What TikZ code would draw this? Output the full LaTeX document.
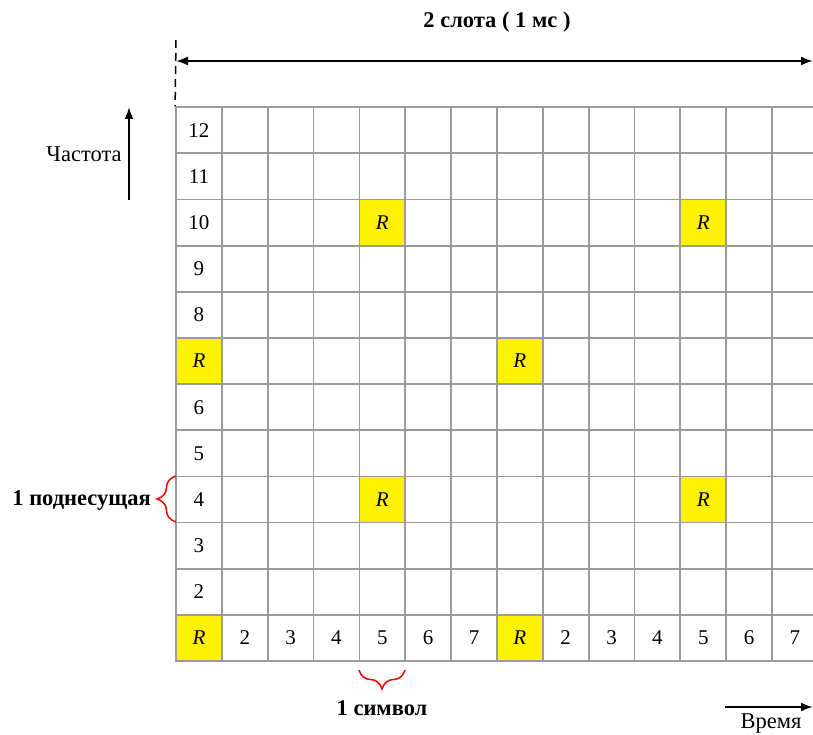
\documentclass[tikz,border=0pt]{standalone}
\usepackage{fontspec}
\setmainfont{Liberation Serif}
\usetikzlibrary{arrows.meta,decorations.pathreplacing}
\definecolor{gridgray}{RGB}{155,155,155}
\definecolor{ryellow}{RGB}{255,242,0}
\begin{document}
\begin{tikzpicture}[x=1pt,y=-1pt,
  cell/.style={draw=gridgray,line width=1.8pt,minimum width=45.85pt,minimum height=46.15pt,inner sep=0pt},
  ycell/.style={cell,fill=ryellow},
  ctext/.style={font=\fontsize{21}{25}\selectfont,inner sep=0pt},
  rtext/.style={ctext,font=\fontsize{21}{25}\selectfont\itshape},
  tip/.style={},
  arr/.style={line width=2pt,-{Latex[length=12pt,width=9pt]}},
  lbl/.style={font=\fontsize{22.5}{26}\selectfont,inner sep=0pt},
  blbl/.style={font=\fontsize{22.5}{26}\selectfont\bfseries,inner sep=0pt},
  rbrace/.style={draw=red,line width=1.5pt,decorate,decoration={brace,amplitude=19pt}}]
\useasboundingbox (0,0) rectangle (813,735);
% grid
\foreach \r in {1,...,12}{
  \foreach \c in {1,...,14}{
    \pgfmathtruncatemacro{\isy}{((\r==1)||(\r==7))&&((\c==1)||(\c==8)) ? 1 : (((\r==4)||(\r==10))&&((\c==5)||(\c==12)) ? 1 : 0)}
    \ifnum\isy=1 \def\cs{ycell}\else\def\cs{cell}\fi
    \node[\cs] (c-\r-\c) at ({176+(\c-0.5)*45.85},{661-(\r-0.5)*46.15}) {};
  }
}
% row labels in first column
\foreach \r in {2,3,4,5,6,8,9,10,11,12}{
  \node[ctext] (l-\r) at (c-\r-1.center) {\r};
}
\node[rtext] (l-7) at (c-7-1.center) {R};
% bottom row labels
\foreach \c/\t in {2/2,3/3,4/4,5/5,6/6,7/7,9/2,10/3,11/4,12/5,13/6,14/7}{
  \node[ctext] (b-\c) at (c-1-\c.center) {\t};
}
\node[rtext] (b-1) at (c-1-1.center) {R};
\node[rtext] (b-8) at (c-1-8.center) {R};
% other R cells
\node[rtext] (r-7-8) at (c-7-8.center) {R};
\node[rtext] (r-4-5) at (c-4-5.center) {R};
\node[rtext] (r-4-12) at (c-4-12.center) {R};
\node[rtext] (r-10-5) at (c-10-5.center) {R};
\node[rtext] (r-10-12) at (c-10-12.center) {R};
% top span arrow
\node[blbl] (title) at (497,22) {2 слота ( 1 мс )};
\coordinate (tl) at (176,61);
\coordinate (tr) at (813,61);
\draw[line width=2pt,{Latex[length=12pt,width=9pt]}-{Latex[length=12pt,width=9pt]}] (tl) -- (tr);
\coordinate (d1) at (176,40);
\draw[line width=1.5pt,dash pattern=on 8pt off 5pt] (d1) -- (c-12-1.north west);
% frequency axis
\coordinate (f1) at (129,200);
\coordinate (f2) at (129,107);
\draw[arr] (f1) -- (f2);
\node[lbl] (freq) at (84,154) {Частота};
% subcarrier brace
\coordinate (sb1) at (176,522);
\coordinate (sb2) at (176,476);
\draw[rbrace] (sb1) -- (sb2);
\node[blbl,anchor=east] (sub) at (151,500) {1 поднесущая};
% symbol brace
\coordinate (yb1) at (405,670);
\coordinate (yb2) at (359,670);
\draw[rbrace] (yb1) -- (yb2);
\node[blbl] (sym) at (382,708) {1 символ};
% time axis
\coordinate (t1) at (725,707);
\coordinate (t2) at (813,707);
\draw[arr] (t1) -- (t2);
\node[lbl] (time) at (771,724) {Время};
\end{tikzpicture}
\end{document}
